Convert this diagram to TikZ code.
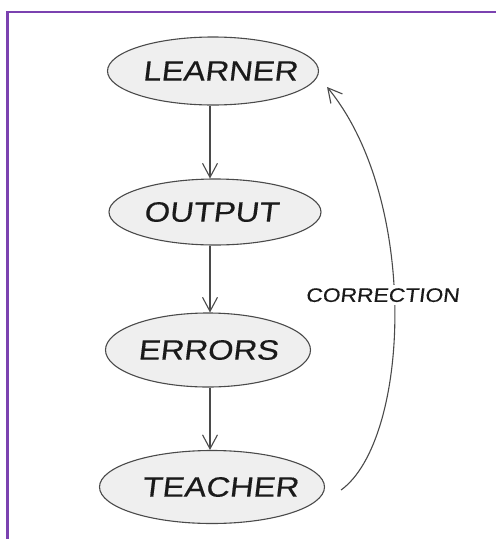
\documentclass[tikz,border=0pt]{standalone}
\usepackage{fontspec}
\setmainfont{Liberation Sans}[FakeSlant=0.12, FakeStretch=1.17, FakeBold=0.3]
\usetikzlibrary{shapes.geometric, arrows.meta}
\definecolor{framec}{HTML}{7B42B0}
\definecolor{ink}{HTML}{4A4A4A}
\definecolor{bub}{HTML}{EFEFEF}
\definecolor{txt}{HTML}{1A1A1A}
\newcommand{\bubtext}[2]{\makebox[0pt]{\hspace*{#1}#2}}
\begin{document}
\begin{tikzpicture}[x=1pt,y=-1pt,
  bubble/.style={ellipse, draw=ink, fill=bub, line width=1.1pt, inner sep=0pt,
    text=txt, font=\fontsize{28}{30}\selectfont},
  flow/.style={draw=ink, line width=1.1pt, -{Straight Barb[length=14pt,width=15pt]}},
  lbl/.style={text=txt, fill=white, inner sep=3pt, font=\fontsize{19.5}{22}\selectfont}
  ]
\useasboundingbox[fill=white] (0,0) rectangle (496,539);
\draw[framec, line width=2.5pt] (7.5,539) -- (7.5,12) -- (496,12);
\node[bubble, minimum width=211pt, minimum height=68pt] (learner) at (213,71) {\bubtext{14pt}{LEARNER}};
\node[bubble, minimum width=212pt, minimum height=66pt] (output) at (215,212) {\bubtext{-8pt}{OUTPUT}};
\node[bubble, minimum width=205pt, minimum height=74pt] (errors) at (208,350) {\bubtext{0pt}{ERRORS}};
\node[bubble, minimum width=225pt, minimum height=73pt] (teacher) at (212,487) {\bubtext{16pt}{TEACHER}};
\draw[flow] (learner.south -| 210,0) -- (output.north -| 210,0);
\draw[flow] (output.south -| 210,0) -- (errors.north -| 210,0);
\draw[flow] (errors.south -| 210,0) -- (teacher.north -| 210,0);
\coordinate (cstart) at ([xshift=16pt,yshift=-3pt]teacher.east);
\coordinate (cend) at ([xshift=8pt,yshift=-16pt]learner.east);
\draw[flow] (cstart) .. controls (410,440) and (420,200) .. (cend)
  node[lbl, pos=0.535, xshift=-12pt] (corr) {CORRECTION};
\end{tikzpicture}
\end{document}
